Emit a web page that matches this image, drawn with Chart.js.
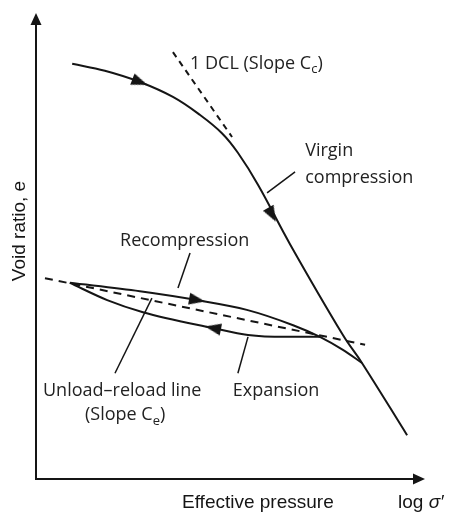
<!DOCTYPE html>
<html>
<head>
<meta charset="utf-8">
<script src="https://cdn.jsdelivr.net/npm/chart.js@4.4.1/dist/chart.umd.min.js"></script>
<style>
  html, body { margin: 0; padding: 0; background: #fff; }
  #chart { display: block; }
</style>
</head>
<body>
<canvas id="chart" width="451" height="518"></canvas>
<script>
// Dijagram e - log sigma' (shematski), x i y su u relativnim jedinicama 0-100

// Kriva prvog opterecenja (virgin compression)
const virginX = [9.3, 17.7, 26.7, 35.2, 42.2, 47.8, 51.9, 57.1, 65.3, 78.9, 83.8, 95.4];
const virginY = [89.1, 87.6, 85.2, 82.0, 78.1, 74.2, 70.0, 63.1, 50.4, 30.9, 24.9, 9.4];

// Isprekidana linija DCL (nagib Cc)
const dclX = [35.2, 50.4];
const dclY = [91.6, 73.4];

// Ponovno opterecenje (gornja grana petlje)
const recompX = [8.7, 26.7, 41.4, 54.2, 66.1, 73.0, 78.9, 83.8];
const recompY = [42.1, 40.3, 38.4, 36.3, 33.0, 30.5, 27.7, 24.9];

// Rasterecenje (donja grana petlje)
const expanX = [8.7, 18.3, 27.5, 45.5, 54.5, 64.0, 73.0];
const expanY = [42.1, 38.4, 35.8, 32.4, 30.9, 30.5, 30.5];

// Linija rasterecenje-opterecenje (nagib Ce)
const urlX = [2.3, 84.6];
const urlY = [43.1, 28.8];

// Strelice na krivama
const arrowX = [26.7, 60.7, 41.4, 45.5];
const arrowY = [85.2, 56.7, 38.4, 32.4];
const arrowRot = [111, 151, 100, 281];

// Pokazne linije za natpise
const leaders = [
    { x: [59.4, 66.6], y: [61.4, 65.9] },
    { x: [39.6, 36.5], y: [48.5, 41.0] },
    { x: [29.8, 20.3], y: [38.8, 22.7] },
    { x: [54.5, 51.9], y: [30.5, 22.7] }
];

// Natpisi (tekst, sa indeksima)
const labels = [
    { x: 39.6, y: 89.1, parts: [['1 DCL (Slope C', ''], ['c', 'sub'], [')', '']] },
    { x: 69.2, y: 70.4, parts: [['Virgin', '']] },
    { x: 69.2, y: 64.6, parts: [['compression', '']] },
    { x: 21.6, y: 51.1, parts: [['Recompression', '']] },
    { x: 1.8, y: 18.9, parts: [['Unload\u2013reload line', '']] },
    { x: 12.6, y: 13.7, parts: [['(Slope C', ''], ['e', 'sub'], [')', '']] },
    { x: 50.6, y: 18.9, parts: [['Expansion', '']] }
];

const INK = '#151515';
const LABEL_FONT = '"Open Sans", "Noto Sans", sans-serif';
const AXIS_FONT = '"Liberation Sans", Arial, sans-serif';

function toPoints(xs, ys) {
    return xs.map((x, i) => ({ x: x, y: ys[i] }));
}

// Uska trouglasta strelica (vrh gore), rotira je Chart.js
function makeArrowHead() {
    const c = document.createElement('canvas');
    c.width = 12;
    c.height = 16;
    const g = c.getContext('2d');
    g.fillStyle = INK;
    g.beginPath();
    g.moveTo(6, 0);
    g.lineTo(12, 16);
    g.lineTo(0, 16);
    g.closePath();
    g.fill();
    return c;
}

function lineSet(xs, ys, extra) {
    return Object.assign({
        data: toPoints(xs, ys),
        showLine: true,
        borderColor: INK,
        borderWidth: 2,
        pointRadius: 0,
        fill: false
    }, extra || {});
}

// Ose sa strelicama i naslovi osa
const axesPlugin = {
    id: 'axesPlugin',
    beforeDatasetsDraw(chart) {
        const { ctx, chartArea: a } = chart;
        ctx.save();
        ctx.strokeStyle = INK;
        ctx.fillStyle = INK;
        ctx.lineWidth = 2;
        ctx.beginPath();
        ctx.moveTo(a.left, a.top + 8);
        ctx.lineTo(a.left, a.bottom);
        ctx.lineTo(a.right - 8, a.bottom);
        ctx.stroke();

        ctx.beginPath();
        ctx.moveTo(a.left, a.top);
        ctx.lineTo(a.left + 5.5, a.top + 12);
        ctx.lineTo(a.left - 5.5, a.top + 12);
        ctx.closePath();
        ctx.fill();

        ctx.beginPath();
        ctx.moveTo(a.right, a.bottom);
        ctx.lineTo(a.right - 12, a.bottom - 5.5);
        ctx.lineTo(a.right - 12, a.bottom + 5.5);
        ctx.closePath();
        ctx.fill();

        ctx.font = '19px ' + AXIS_FONT;
        ctx.textBaseline = 'middle';
        ctx.textAlign = 'left';
        ctx.fillText('Effective pressure', 182, a.bottom + 24);
        ctx.fillText('log ', 398, a.bottom + 24);
        const w = ctx.measureText('log ').width;
        ctx.font = 'italic 19px ' + AXIS_FONT;
        ctx.fillText('\u03C3\u2032', 398 + w, a.bottom + 24);

        ctx.translate(20, 231);
        ctx.rotate(-Math.PI / 2);
        ctx.font = '19px ' + AXIS_FONT;
        ctx.textAlign = 'center';
        ctx.fillText('Void ratio, e', 0, 0);
        ctx.restore();
    },
    afterDatasetsDraw(chart) {
        const { ctx, scales } = chart;
        ctx.save();
        ctx.fillStyle = '#222';
        ctx.textBaseline = 'middle';
        ctx.textAlign = 'left';
        labels.forEach(l => {
            let px = scales.x.getPixelForValue(l.x);
            const py = scales.y.getPixelForValue(l.y);
            l.parts.forEach(([txt, kind]) => {
                if (kind === 'sub') {
                    ctx.font = '13px ' + LABEL_FONT;
                    ctx.fillText(txt, px, py + 6);
                } else {
                    ctx.font = '18px ' + LABEL_FONT;
                    ctx.fillText(txt, px, py);
                }
                px += ctx.measureText(txt).width;
            });
        });
        ctx.restore();
    }
};

const arrowHead = makeArrowHead();

const datasets = [
    lineSet(virginX, virginY, { tension: 0.4 }),
    lineSet(dclX, dclY, { borderDash: [6, 5] }),
    lineSet(recompX, recompY, { cubicInterpolationMode: 'monotone' }),
    lineSet(expanX, expanY, { cubicInterpolationMode: 'monotone' }),
    lineSet(urlX, urlY, { borderDash: [8, 6] })
];
leaders.forEach(l => datasets.push(lineSet(l.x, l.y, { borderWidth: 1.5 })));
datasets.push({
    data: toPoints(arrowX, arrowY),
    showLine: false,
    pointStyle: arrowHead,
    pointRotation: arrowRot,
    pointRadius: 6
});

new Chart(document.getElementById('chart'), {
    type: 'scatter',
    data: { datasets: datasets },
    options: {
        responsive: false,
        animation: false,
        layout: { padding: { left: 36, top: 13, right: 26, bottom: 39 } },
        scales: {
            x: { type: 'linear', min: 0, max: 100, display: false },
            y: { type: 'linear', min: 0, max: 100, display: false }
        },
        plugins: {
            legend: { display: false },
            tooltip: { enabled: false }
        }
    },
    plugins: [axesPlugin]
});
</script>
</body>
</html>
